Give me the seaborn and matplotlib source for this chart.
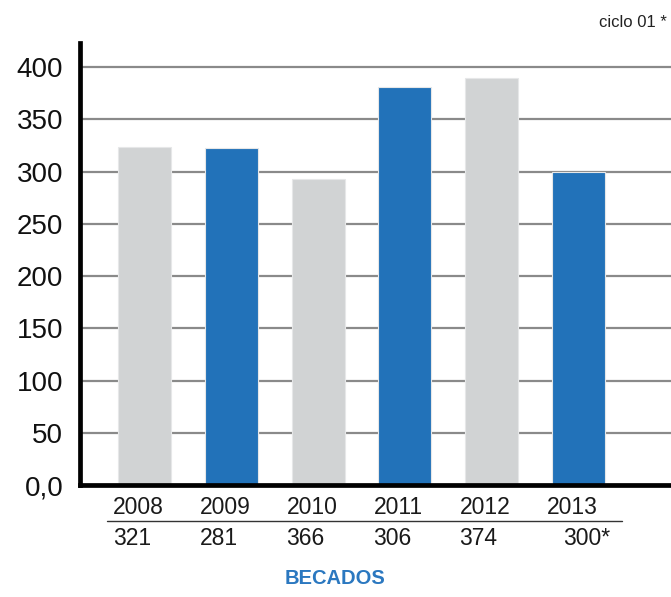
import matplotlib
matplotlib.use("Agg")
import matplotlib.pyplot as plt
import matplotlib.transforms as mtransforms
import seaborn as sns

years = ["2008", "2009", "2010", "2011", "2012", "2013"]
values = [324, 323, 293, 381, 390, 300]
counts = ["321", "281", "366", "306", "374", "300*"]
bar_colors = ["#D1D3D4", "#2272B9", "#D1D3D4", "#2272B9", "#D1D3D4", "#2272B9"]
yticks = [0, 50, 100, 150, 200, 250, 300, 350, 400]
ytick_labels = ["0,0", "50", "100", "150", "200", "250", "300", "350", "400"]

sns.set_style("white")
plt.rcParams["font.family"] = ["Liberation Sans", "DejaVu Sans"]

fig = plt.figure(figsize=(6.71, 5.97), dpi=100)
ax = fig.add_axes([0.119, 0.1876, 0.881, 0.740])

sns.barplot(x=years, y=values, hue=years, palette=bar_colors, legend=False,
            width=0.61, saturation=1, ax=ax, zorder=3,
            edgecolor="#e6e7e8", linewidth=0.8)

ax.set_xlim(-0.75, 6.07)
ax.set_ylim(0, 423)
ax.set_yticks(yticks)
ax.set_yticklabels(ytick_labels, fontsize=20)
ax.set_xticks([])
ax.set_xlabel("")
ax.set_ylabel("")

ax.yaxis.grid(True, color="#8a8a8a", linewidth=1.6, zorder=1)
ax.set_axisbelow(True)

for s in ["top", "right"]:
    ax.spines[s].set_visible(False)
for s in ["left", "bottom"]:
    ax.spines[s].set_linewidth(3.4)
    ax.spines[s].set_color("black")
    ax.spines[s].set_zorder(5)

ax.tick_params(axis="y", direction="inout", length=20, width=3.4, color="black",
               pad=2, labelcolor="#111111")

trans = mtransforms.blended_transform_factory(ax.transData, ax.transAxes)
for i, (yr, c) in enumerate(zip(years, counts)):
    ax.text(i - 0.07, -0.052, yr, transform=trans, ha="center", va="center",
            fontsize=16.5, color="#1a1a1a")
    xoff = 0.1 if c.endswith("*") else -0.15
    ax.text(i + xoff, -0.12, c, transform=trans, ha="center", va="center",
            fontsize=16.5, color="#1a1a1a")
ax.plot([-0.44, 5.51], [-0.081, -0.081], transform=trans, color="#333333",
        linewidth=1.0, clip_on=False)

fig.text(0.5, 0.015, "BECADOS", ha="center", va="bottom", fontsize=14.5,
         fontweight="bold", color="#2B78C0")
fig.text(0.893, 0.963, "ciclo 01 *", ha="left", va="center", fontsize=12,
         color="#222222")

fig.savefig("out.png", dpi=100)
